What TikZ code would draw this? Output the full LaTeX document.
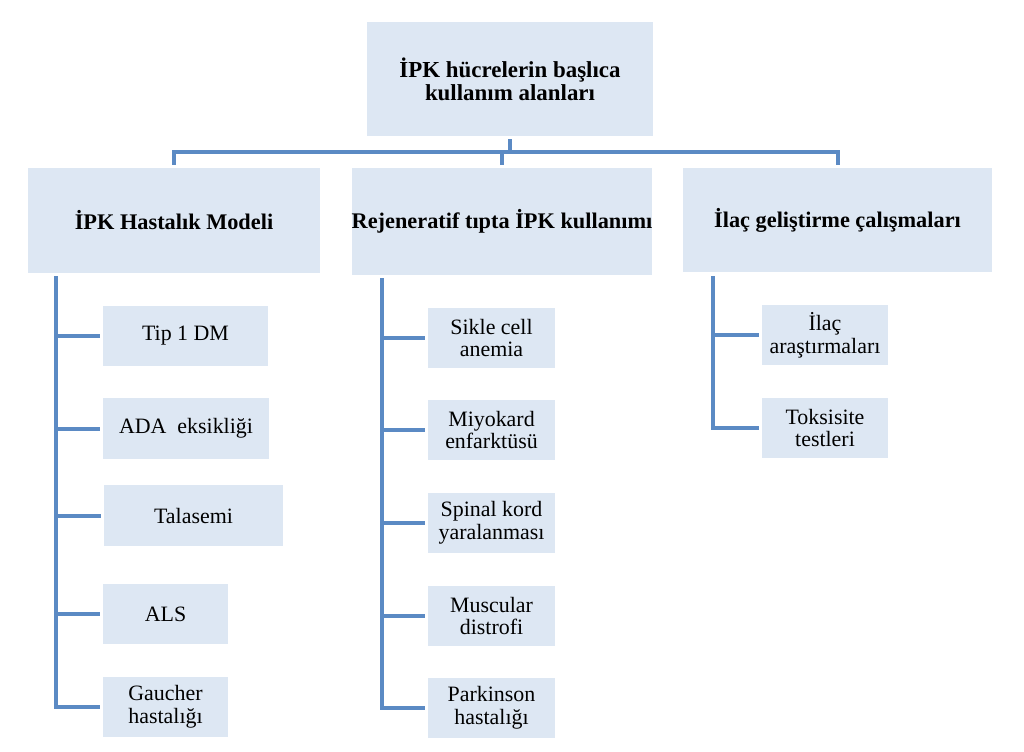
\documentclass[tikz,border=0pt]{standalone}
\usepackage{fontspec}
\setmainfont{Liberation Serif}
\usetikzlibrary{calc,backgrounds}
\definecolor{boxfill}{HTML}{DDE7F3}
\definecolor{linecol}{HTML}{5B8AC4}
\tikzset{
  box/.style={fill=boxfill, draw=none, inner sep=0pt, align=center, text=black},
  headbox/.style={box, font=\fontsize{23}{23}\selectfont\bfseries},
  catbox/.style={box, font=\fontsize{22.4}{24}\selectfont\bfseries},
  kidbox/.style={box, font=\fontsize{22}{23}\selectfont},
  conn/.style={draw=linecol, line width=4bp, line cap=rect, line join=miter}
}
\begin{document}
\begin{tikzpicture}[x=1bp,y=-1bp]
\useasboundingbox (0,0) rectangle (1024,752);
% top
\node[headbox, minimum width=286bp, minimum height=114bp] (top) at (510,79) {İPK hücrelerin başlıca\\kullanım alanları};
% categories
\node[catbox, minimum width=292bp, minimum height=105bp] (L1) at (174,220.5) {İPK Hastalık Modeli};
\node[catbox, minimum width=300bp, minimum height=107bp] (M1) at (502,221.5) {Rejeneratif tıpta İPK kullanımı};
\node[catbox, minimum width=309bp, minimum height=104bp] (R1) at (837.5,220) {İlaç geliştirme çalışmaları};
% left children
\node[kidbox, minimum width=165bp, minimum height=60bp] (a1) at (185.5,336) {Tip 1 DM};
\node[kidbox, minimum width=166bp, minimum height=61bp] (a2) at (186,428.5) {ADA\ \ eksikliği};
\node[kidbox, minimum width=179bp, minimum height=61bp] (a3) at (193.5,515.5) {Talasemi};
\node[kidbox, minimum width=125bp, minimum height=60bp] (a4) at (165.5,614) {ALS};
\node[kidbox, minimum width=125bp, minimum height=60bp] (a5) at (165.5,707) {Gaucher\\hastalığı};
% middle children
\node[kidbox, minimum width=127bp, minimum height=60bp] (b1) at (491.5,338) {Sikle cell\\anemia};
\node[kidbox, minimum width=127bp, minimum height=60bp] (b2) at (491.5,430) {Miyokard\\enfarktüsü};
\node[kidbox, minimum width=127bp, minimum height=60bp] (b3) at (491.5,523) {Spinal kord\\yaralanması};
\node[kidbox, minimum width=127bp, minimum height=60bp] (b4) at (491.5,616) {Muscular\\distrofi};
\node[kidbox, minimum width=127bp, minimum height=60bp] (b5) at (491.5,708) {Parkinson\\hastalığı};
% right children
\node[kidbox, minimum width=126bp, minimum height=60bp] (c1) at (825,335) {İlaç\\araştırmaları};
\node[kidbox, minimum width=126bp, minimum height=60bp] (c2) at (825,428) {Toksisite\\testleri};
% junction coordinates
\coordinate (barL) at (174,152);
\coordinate (barR) at (837.5,152);
\coordinate (lt) at (56,278);
\coordinate (mt) at (382,280);
\coordinate (rt) at (713,278);
\begin{scope}[on background layer]
\fill[white] (0,0) rectangle (1024,752);
% top tree
\draw[conn] ($(top.south)+(0,5)$) -- (top.south |- barL);
\draw[conn] (barL) -- (barR);
\draw[conn] (barL) -- ($(L1.north)+(0,-5)$);
\draw[conn] (M1.north |- barL) -- ($(M1.north)+(0,-5)$);
\draw[conn] (barR) -- ($(R1.north)+(0,-5)$);
% left group
\draw[conn] (lt) |- ([xshift=-5bp]a5.west);
\foreach \k in {a1,a2,a3,a4}{\draw[conn] (\k.west -| lt) -- ([xshift=-5bp]\k.west);}
% middle group
\draw[conn] (mt) |- ([xshift=-5bp]b5.west);
\foreach \k in {b1,b2,b3,b4}{\draw[conn] (\k.west -| mt) -- ([xshift=-5bp]\k.west);}
% right group
\draw[conn] (rt) |- ([xshift=-5bp]c2.west);
\draw[conn] (c1.west -| rt) -- ([xshift=-5bp]c1.west);
\end{scope}
\end{tikzpicture}
\end{document}
